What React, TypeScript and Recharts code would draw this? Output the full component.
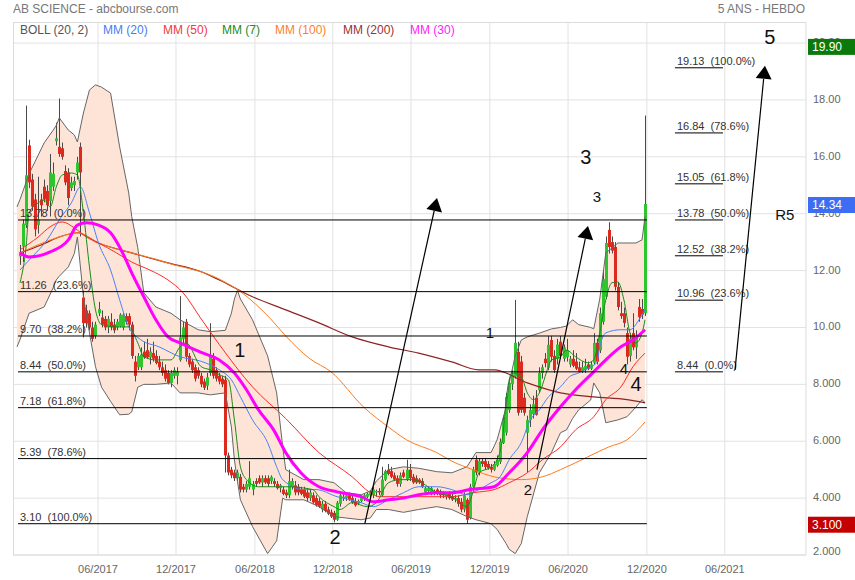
import React from 'react';
import {
  ComposedChart, XAxis, YAxis, CartesianGrid, Line, Area, Bar,
  ReferenceLine, ReferenceDot,
} from 'recharts';

const FONT = '"Liberation Sans", Arial, Helvetica, sans-serif';

// weekly candles [open, high, low, close], week index 0 = early Dec 2016
const candlesA: number[][] = [
  [12.5,12.9,12.2,12.65],[12.85,13.8,12.3,13.65],[13.6,17.8,13.5,15.35],[16.4,16.6,14.9,15.1],
  [15.2,15.4,14.1,14.25],[14.5,14.7,13.2,13.45],[13.6,15.3,13.3,13.8],[14.5,14.7,13.9,14.3],
  [14.95,15.2,14.4,14.5],[14.8,15.0,14.1,14.3],[14.45,16.1,13.9,15.45],[14.95,15.8,14.8,15.4],
  [16.55,17.2,16.4,16.65],[16.35,18.05,16.0,16.1],[16.3,16.5,15.9,16.0],[15.5,15.7,15.0,15.1],
  [15.45,15.6,14.3,14.55],[14.9,15.3,14.8,15.1],[15.0,15.3,14.8,15.15],[15.45,16.0,15.2,15.8],
  [16.35,16.5,13.2,15.45],
];
const candlesB: number[][] = [
  [11.05,11.3,9.65,10.15],[10.6,10.8,10.0,10.15],[10.5,10.6,9.9,10.0],[10.0,10.2,9.5,9.6],
  [9.7,10.2,9.6,10.1],[10.5,10.9,10.4,10.65],[10.35,10.6,10.0,10.1],[10.3,10.4,9.9,10.0],
  [10.0,10.4,9.8,10.3],[10.2,10.5,9.9,10.0],[10.1,10.3,9.8,9.9],[10.0,10.3,9.9,10.2],
  [10.05,10.5,10.0,10.45],[10.0,10.5,9.9,10.45],[10.4,10.5,10.1,10.2],[10.4,10.5,9.9,10.1],
  [10.1,10.2,8.9,9.0],[8.8,9.0,8.1,8.3],
];
const candlesC: number[][] = [
  [8.6,9.1,8.5,9.0],[8.6,9.3,8.5,9.05],[9.15,9.5,8.9,8.95],[9.2,9.6,8.9,8.95],
  [8.95,9.3,8.7,9.15],[9.1,9.5,8.8,8.9],[9.0,9.2,8.7,8.75],[8.8,9.0,8.5,8.6],
  [8.6,8.8,8.3,8.4],[8.5,8.7,8.1,8.2],[8.4,8.5,8.0,8.05],[8.05,8.5,7.9,8.4],
  [8.3,8.6,8.2,8.5],[8.3,8.6,8.0,8.45],[8.85,11.1,8.8,9.65],[9.6,10.2,9.4,10.0],
  [10.2,10.3,8.8,8.97],[9.0,9.1,8.6,8.7],[8.8,8.9,8.4,8.5],[8.6,8.7,8.1,8.2],
  [8.5,8.6,8.2,8.3],[8.3,8.4,7.9,8.0],[8.1,8.2,7.8,7.88],[7.95,8.4,7.8,8.25],
  [8.4,10.15,8.3,8.97],[8.9,9.1,8.2,8.3],[8.5,8.6,8.1,8.2],[8.3,8.4,8.0,8.1],
  [8.2,8.3,7.9,8.0],[8.16,8.3,4.9,5.5],[5.5,5.6,4.8,4.9],
];
const candlesD: number[][] = [
  [5.0,5.1,4.7,4.8],[4.9,5.0,4.6,4.7],[4.7,5.0,4.6,4.9],[4.75,4.85,4.2,4.3],
  [4.4,4.5,4.2,4.3],[4.3,4.6,4.2,4.5],[4.4,5.3,4.3,4.7],[4.3,4.6,4.1,4.5],
  [4.6,4.7,4.4,4.5],[4.7,4.8,4.5,4.55],[4.55,4.8,4.4,4.7],[4.7,4.8,4.5,4.55],
  [4.7,4.8,4.4,4.5],[4.6,4.8,4.5,4.75],[4.6,4.7,4.4,4.5],[4.5,4.6,4.3,4.35],
  [4.35,4.5,4.2,4.45],[4.3,4.4,4.1,4.15],[4.2,4.3,4.0,4.1],[4.1,5.0,4.0,4.6],
  [4.4,4.7,4.3,4.6],[4.45,4.6,4.1,4.2],[4.4,4.5,4.1,4.2],[4.3,4.4,4.1,4.15],
  [4.3,4.4,4.0,4.05],[4.2,4.35,3.9,4.0],[4.0,4.3,3.9,4.2],[4.1,4.2,3.8,3.85],
  [4.0,4.1,3.7,3.75],[3.9,4.0,3.65,3.7],[3.6,3.9,3.5,3.8],[3.8,3.9,3.5,3.55],
  [3.6,3.7,3.4,3.45],[3.5,3.6,3.3,3.35],[3.48,3.55,3.15,3.24],[3.24,3.9,3.2,3.84],
  [3.8,4.2,3.7,4.1],[4.0,4.2,3.9,4.05],[4.0,4.2,3.9,4.1],[4.1,4.2,3.9,3.95],
  [4.0,4.1,3.8,3.85],[3.9,4.0,3.7,3.75],[3.8,3.95,3.75,3.9],[3.9,4.1,3.85,4.05],
  [4.0,4.15,3.9,4.1],[4.05,4.2,4.0,4.15],[4.1,4.25,4.0,4.2],[4.1,4.4,4.0,4.3],
  [4.2,4.3,4.05,4.25],[4.25,4.35,4.1,4.2],
];
const candlesE: number[][] = [
  [4.1,5.1,4.05,4.65],[4.65,5.0,4.6,4.95],[5.0,5.2,4.8,4.85],[4.95,5.1,4.7,4.75],
  [4.8,4.9,4.6,4.65],[4.7,4.8,4.4,4.5],[4.5,4.9,4.4,4.8],[4.9,5.0,4.7,4.75],
  [4.65,5.35,4.6,5.0],[5.0,5.2,4.6,4.7],[4.75,4.85,4.5,4.55],[4.7,4.8,4.5,4.55],
  [4.65,4.7,4.5,4.55],[4.6,4.7,4.35,4.4],[4.2,4.4,4.1,4.35],[4.25,4.4,4.2,4.35],
  [4.15,4.4,4.1,4.35],[4.2,4.3,4.1,4.25],[4.3,4.35,4.1,4.2],[4.25,4.3,4.0,4.1],
  [4.2,4.25,4.0,4.1],[4.05,4.2,3.95,4.15],[4.15,4.25,3.95,4.0],[4.05,4.15,3.9,3.95],
  [3.95,4.1,3.85,4.0],[4.0,4.1,3.7,3.8],[3.87,4.0,3.5,3.6],[3.6,4.2,3.5,4.1],
  [3.94,4.0,3.1,3.24],[3.3,4.5,3.25,4.4],[4.4,5.1,4.3,5.0],[5.35,5.5,4.8,4.9],
  [4.9,5.4,4.8,5.3],[5.3,5.4,5.1,5.2],[5.3,5.4,5.0,5.1],[5.2,5.3,5.0,5.05],
  [5.1,5.2,4.9,5.0],[5.0,5.3,4.95,5.2],[5.15,5.5,5.1,5.35],[5.28,6.1,5.2,5.98],
  [5.94,6.9,5.9,6.75],
];
const candlesF: number[][] = [
  [6.3,7.7,6.2,7.56],[7.1,8.2,7.0,8.05],[8.0,8.5,7.8,8.35],[8.27,10.97,8.2,9.46],
  [9.14,9.5,6.9,7.0],[8.8,9.0,7.0,7.1],[7.53,7.7,6.9,7.0],[6.3,6.9,4.9,6.75],
  [6.75,7.3,6.5,7.1],[6.95,7.6,6.8,7.3],[7.53,7.8,6.9,6.93],[7.8,8.6,7.7,8.4],
  [8.4,8.7,8.2,8.6],[8.9,9.1,8.6,8.75],[8.58,9.7,8.5,9.39],[9.56,9.7,8.8,8.97],
  [9.0,9.2,8.4,8.5],[8.9,9.6,8.7,9.4],[9.5,9.7,8.9,9.0],[8.9,9.4,8.8,9.3],
  [8.95,9.6,8.8,9.2],[8.7,9.0,8.6,8.9],[8.9,9.2,8.6,8.65],[8.8,9.1,8.5,8.55],
  [8.6,8.8,8.4,8.45],[8.45,8.8,8.4,8.6],[8.5,8.9,8.4,8.65],[8.7,8.8,8.5,8.55],
  [8.55,8.8,8.5,8.7],[8.76,9.8,8.7,9.46],[9.46,9.6,8.7,8.8],[9.2,10.7,9.1,10.5],
  [10.2,12.0,10.1,11.7],[11.08,13.2,11.0,12.97],[13.43,13.7,12.6,12.83],[13.0,13.2,12.6,12.7],
  [12.83,13.0,11.3,11.43],[11.43,11.6,10.6,10.72],[10.5,10.9,10.3,10.4],[10.5,10.7,10.0,10.16],
  [9.8,10.0,8.7,8.97],[9.0,9.8,8.8,9.6],[9.8,10.5,9.2,9.3],[9.3,9.9,8.9,9.65],
  [10.72,11.0,10.2,10.37],[10.65,11.0,10.3,10.45],[10.5,17.45,10.4,14.34],
];

// Bollinger (20,2): [week, lower, upper]
const bollinger: number[][] = [
  [-1,9.32,14.24],[0,9.57,14.5],[3,10.5,15.4],[8,10.72,16.49],[11,11.4,16.94],[12,11.67,17.1],
  [13,11.8,17.37],[16,12.13,16.94],[18,12.6,16.77],[19,13.18,16.52],[21,11.08,17.54],[23,9.81,18.35],
  [25,8.62,18.53],[27,7.9,18.45],[30,7.4,18.24],[33,6.93,16.35],[36,6.95,14.73],[37,7.03,13.9],
  [39,7.9,12.8],[41,8.0,11.22],[45,8.0,10.72],[50,8.05,10.5],[53,7.7,10.27],[59,7.7,9.92],
  [63,7.63,9.85],[68,7.7,9.9],[70,6.5,10.5],[71,5.35,11.0],[72,4.6,11.3],[73,3.94,11.0],
  [77,3.0,10.27],[82,2.05,9.0],[85,2.5,7.7],[87,4.0,5.8],[88,3.94,5.0],[94,3.94,4.65],
  [99,3.7,4.65],[104,3.35,4.54],[108,3.3,4.19],[113,3.24,4.12],[116,3.3,4.25],[118,3.6,4.6],
  [122,3.6,5.0],[127,3.5,5.1],[132,3.6,5.05],[138,3.7,4.93],[143,3.6,4.89],[148,3.35,5.1],
  [151,3.24,5.6],[156,3.1,5.6],[158,2.9,6.05],[161,2.4,7.2],[162,2.2,8.05],[164,2.05,9.0],
  [166,2.4,9.56],[168,3.35,9.67],[172,4.89,9.8],[176,5.6,9.95],[179,6.3,10.0],[181,6.4,10.05],
  [183,6.8,10.27],[185,7.1,10.1],[189,7.45,10.0],[190,8.05,9.95],[192,7.7,11.0],[194,6.65,12.62],
  [198,6.75,12.97],[201,6.86,12.97],[204,7.2,12.97],[206,7.46,13.08],[207,7.35,13.9],
];

// moving averages: [week, value]
const mm20: number[][] = [
  [0,12.02],[4,12.48],[9,13.08],[13,13.78],[17,14.38],[20,14.94],[23,14.03],[26,12.97],[30,12.02],
  [33,10.97],[36,10.02],[40,9.57],[46,9.32],[53,8.97],[60,8.81],[66,8.51],[70,8.16],[73,7.56],
  [77,6.75],[82,5.95],[85,5.1],[87,4.65],[94,4.3],[98,4.3],[105,4.05],[113,3.84],[117,3.7],
  [122,3.94],[127,4.19],[132,4.4],[138,4.4],[143,4.3],[148,4.12],[151,4.25],[156,4.54],[159,4.75],
  [162,5.35],[166,5.95],[169,6.75],[172,7.1],[175,7.56],[179,7.91],[182,8.27],[185,8.4],[189,8.62],
  [191,8.76],[192,9.32],[194,9.81],[199,9.92],[202,9.92],[205,10.27],[207,10.62],
];
const mm50: number[][] = [
  [0,12.73],[6,13.18],[10,13.54],[14,13.71],[18,13.5],[22,13.18],[26,12.97],[32,12.62],[37,12.3],
  [43,12.02],[49,11.67],[54,11.22],[60,10.3],[66,9.4],[77,7.91],[88,6.8],[99,5.6],[110,4.75],
  [116,4.19],[119,4.05],[127,4.05],[143,4.05],[150,4.19],[157,4.3],[162,4.54],[168,4.89],[173,5.35],
  [179,5.8],[184,6.4],[190,6.86],[194,7.46],[199,7.91],[203,8.62],[207,9.1],
];
const mm7: number[][] = [
  [0,11.57],[2,12.83],[3,14.03],[6,14.38],[8,14.48],[10,14.24],[12,14.94],[14,15.36],[17,15.43],
  [19,15.36],[21,14.03],[23,12.13],[25,10.62],[27,10.1],[32,10.02],[36,10.02],[39,9.46],[41,8.97],
  [45,8.86],[50,8.86],[53,9.32],[55,9.46],[60,8.62],[63,8.51],[66,8.34],[69,8.16],[71,6.75],
  [73,5.1],[75,4.65],[79,4.4],[88,4.4],[97,4.3],[99,4.05],[104,3.7],[106,3.6],[110,3.84],
  [115,3.7],[118,3.84],[122,4.54],[126,4.65],[130,4.65],[133,4.54],[138,4.19],[143,4.05],[148,3.7],
  [150,4.2],[152,4.89],[156,5.1],[158,5.35],[160,6.3],[161,7.46],[163,8.4],[166,8.27],[168,7.7],
  [170,7.46],[172,7.7],[175,8.62],[176,8.86],[179,8.97],[181,9.2],[184,8.97],[188,8.76],[190,8.86],
  [192,9.81],[194,10.97],[196,11.57],[198,11.6],[200,10.97],[202,9.81],[204,9.46],[206,9.81],[207,10.27],
];
const mm100: number[][] = [
  [0,12.62],[13,13.18],[19,13.33],[26,12.97],[37,12.62],[45,12.4],[51,12.2],[55,12.1],[64,11.8],
  [73,11.26],[83,10.3],[88,9.7],[96,8.9],[103,8.44],[114,7.18],[122,6.5],[128,6.05],[138,5.6],
  [143,5.3],[150,5.0],[157,4.75],[166,4.65],[173,4.75],[179,5.0],[188,5.45],[195,5.8],[201,6.05],
  [207,6.68],
];
const mm200: number[][] = [
  [0,12.62],[7,12.9],[13,13.18],[19,13.33],[26,12.97],[37,12.62],[49,12.27],[60,11.96],[66,11.67],
  [77,11.08],[88,10.62],[99,10.16],[110,9.67],[122,9.32],[132,9.1],[143,8.79],[152,8.51],[157,8.51],
  [168,8.05],[179,7.7],[190,7.56],[201,7.46],[207,7.35],
];
const mm30: number[][] = [
  [0,12.62],[3,12.48],[10,12.66],[16,13.08],[19,13.6],[22,13.68],[26,13.6],[30,13.33],[34,12.62],
  [37,11.92],[41,11.08],[45,10.27],[49,9.67],[53,9.46],[60,9.12],[66,8.86],[71,8.4],[75,7.81],
  [79,7.1],[84,6.4],[88,5.6],[93,4.89],[99,4.4],[105,4.22],[113,4.05],[117,3.87],[122,3.94],
  [127,4.0],[132,4.12],[138,4.19],[143,4.19],[149,4.3],[157,4.4],[162,4.89],[168,5.6],[173,6.4],
  [179,7.21],[184,7.81],[190,8.44],[194,8.86],[199,9.32],[203,9.56],[207,9.92],
];

// Fibonacci retracement (left) and extension (right)
const fibLeftValues = [13.78, 11.26, 9.70, 8.44, 7.18, 5.39, 3.10];
const fibLeftLabels = ['13.78  (0.0%)', '11.26  (23.6%)', '9.70  (38.2%)', '8.44  (50.0%)', '7.18  (61.8%)', '5.39  (78.6%)', '3.10  (100.0%)'];
const fibRightValues = [19.13, 16.84, 15.05, 13.78, 12.52, 10.96, 8.44];
const fibRightLabels = ['19.13  (100.0%)', '16.84  (78.6%)', '15.05  (61.8%)', '13.78  (50.0%)', '12.52  (38.2%)', '10.96  (23.6%)', '8.44  (0.0%)'];

// arrows: [fromWeek, fromValue, toWeek, toValue]
const arrows: number[][] = [
  [114.2, 3.1, 138.1, 14.55],
  [171.2, 5.0, 188.1, 13.57],
  [236.8, 8.51, 246.7, 19.2],
];
// wave labels
const waveText = ['1', '2', '1', '2', '3', '3', '4', '4', '5', 'R5'];
const waveWeek = [72.8, 104.3, 155.6, 168.2, 187.4, 191.1, 200.0, 204.0, 248.3, 253.3];
const waveValue = [9.21, 2.64, 9.81, 4.29, 16.0, 14.62, 8.55, 8.02, 20.22, 13.96];
const waveSize = [20, 20, 15, 15, 20, 15, 15, 20, 20, 15];

// price badges on the axis
const badgeValues = [19.90, 14.34, 3.10];
const badgeLabels = ['19.90', '14.34', '3.100'];
const badgeColors = ['#0b7a0b', '#3d6df2', '#c40000'];

const xTickPos = [25.83, 51.66, 77.8, 103.6, 129.5, 155.6, 181.5, 207.6, 233.4];
const xTickLabels = ['06/2017', '12/2017', '06/2018', '12/2018', '06/2019', '12/2019', '06/2020', '12/2020', '06/2021'];
const yTicks = [2, 4, 6, 8, 10, 12, 14, 16, 18, 20];

const X_MIN = -2.32;
const X_MAX = 260.3;
const Y_MIN = 2;
const Y_MAX = 20.74;

const legendItems = [
  { t: 'BOLL (20, 2)', c: '#555555', x: 20 },
  { t: 'MM (20)', c: '#4a7cf6', x: 103 },
  { t: 'MM (50)', c: '#f03b3b', x: 163 },
  { t: 'MM (7)', c: '#228b22', x: 222 },
  { t: 'MM (100)', c: '#ff7f27', x: 275 },
  { t: 'MM (200)', c: '#993333', x: 343 },
  { t: 'MM (30)', c: '#ff22ff', x: 410 },
];

// ---- build the table ----
const allCandles = [...candlesA, ...candlesB, ...candlesC, ...candlesD, ...candlesE, ...candlesF];
const rows: any[] = [];
for (let i = -2; i <= 260; i++) rows.push({ i });
const rowAt = (i: number) => rows[Math.round(i) + 2];
allCandles.forEach((c, k) => {
  Object.assign(rowAt(k), { o: c[0], h: c[1], l: c[2], c: c[3], hl: [c[2], c[1]] });
});
bollinger.forEach(([i, lo, up]) => Object.assign(rowAt(i), { bbLo: lo, bbUp: up, band: [lo, up] }));
const addSeries = (key: string, pts: number[][]) => pts.forEach(([i, v]) => { rowAt(i)[key] = v; });
addSeries('mm20', mm20);
addSeries('mm50', mm50);
addSeries('mm7', mm7);
addSeries('mm100', mm100);
addSeries('mm200', mm200);
addSeries('mm30', mm30);

// axis ticks: regular ticks first, badge values last so badges paint on top
const yAxisTicks = [...yTicks, ...badgeValues];

const Candle = (p: any) => {
  const d = p.payload;
  if (!d || d.o == null) return null;
  const top = Math.min(p.y, p.y + p.height);
  const bot = Math.max(p.y, p.y + p.height);
  const span = d.h - d.l || 1;
  const yOf = (v: number) => top + ((d.h - v) / span) * (bot - top);
  const cx = Math.round(p.x + p.width / 2);
  const up = d.c >= d.o;
  const y1 = yOf(Math.max(d.o, d.c));
  const y2 = yOf(Math.min(d.o, d.c));
  return (
    <g>
      <line x1={cx + 0.5} x2={cx + 0.5} y1={top} y2={bot} stroke="#4a4a4a" strokeWidth={1} />
      <rect x={cx - 1} y={y1} width={3} height={Math.max(1, y2 - y1)} fill={up ? '#2ec52e' : '#de2a1e'} />
    </g>
  );
};

const fibShape = (label: string) => (p: any) => (
  <g>
    <line x1={p.x1} y1={p.y1} x2={p.x2} y2={p.y2} stroke="#000" strokeWidth={1} />
    <text x={p.x1 + 2} y={p.y1 - 3} fontSize={11} fill="#333" fontFamily={FONT} style={{ whiteSpace: 'pre' }}>{label}</text>
  </g>
);

const arrowShape = (p: any) => {
  const { x1, y1, x2, y2 } = p;
  const a = Math.atan2(y2 - y1, x2 - x1);
  const L = 13, W = 8;
  const bx = x2 - L * Math.cos(a), by = y2 - L * Math.sin(a);
  const lx = bx - W * Math.sin(a), ly = by + W * Math.cos(a);
  const rx = bx + W * Math.sin(a), ry = by - W * Math.cos(a);
  return (
    <g>
      <line x1={x1} y1={y1} x2={bx} y2={by} stroke="#000" strokeWidth={1.2} />
      <polygon points={`${x2},${y2} ${lx},${ly} ${rx},${ry}`} fill="#000" />
    </g>
  );
};

const fmtY = (v: number) => (v < 10 ? v.toFixed(3) : v.toFixed(2));
const fmtX = (v: number) => {
  const k = xTickPos.findIndex((t) => Math.abs(t - v) < 0.01);
  return k >= 0 ? xTickLabels[k] : '';
};

const YTick = (p: any) => {
  const v = p.payload.value;
  const k = badgeValues.indexOf(v);
  if (k >= 0) {
    return (
      <g>
        <rect x={p.x - 5} y={p.y - 7} width={47} height={16} fill={badgeColors[k]} />
        <text x={p.x - 1} y={p.y + 1} dominantBaseline="central" fontSize={12} fill="#fff" fontFamily={FONT}>{badgeLabels[k]}</text>
      </g>
    );
  }
  const lift = v === Y_MIN ? 4 : 1;
  return (
    <text x={p.x} y={p.y - lift} dominantBaseline="central" fontSize={11} fill="#666" fontFamily={FONT}>{fmtY(v)}</text>
  );
};

export default function App() {
  return (
    <div style={{ position: 'absolute', left: 0, top: 0, width: 855, height: 580, background: '#fff', fontFamily: FONT }}>
      <ComposedChart width={855} height={580} data={rows} margin={{ top: 22, right: 0, bottom: 0, left: 13 }}>
        <CartesianGrid stroke="#e2e2e2" strokeWidth={1} horizontalValues={yTicks} verticalValues={xTickPos} />
        <XAxis
          dataKey="i" type="number" domain={[X_MIN, X_MAX]} allowDataOverflow
          ticks={xTickPos} tickFormatter={fmtX} interval={0}
          height={25} tickLine={false} axisLine={{ stroke: '#dcdcdc' }}
          tick={{ fontSize: 11, fill: '#666', fontFamily: FONT }} tickMargin={4}
        />
        <YAxis
          orientation="right" type="number" domain={[Y_MIN, Y_MAX]} allowDataOverflow
          ticks={yAxisTicks} interval={0} width={49}
          tickLine={false} axisLine={{ stroke: '#dcdcdc' }} tickSize={0} tickMargin={7}
          tick={YTick}
        />
        <Area dataKey="band" type="linear" connectNulls fill="#fde4d7" fillOpacity={1} stroke="none" isAnimationActive={false} />
        <Line dataKey="bbUp" type="linear" connectNulls stroke="#666" strokeWidth={1} dot={false} isAnimationActive={false} />
        <Line dataKey="bbLo" type="linear" connectNulls stroke="#666" strokeWidth={1} dot={false} isAnimationActive={false} />
        <Bar dataKey="hl" barSize={3} shape={Candle} isAnimationActive={false} />
        <Line dataKey="mm200" type="monotone" connectNulls stroke="#8e2424" strokeWidth={1.2} dot={false} isAnimationActive={false} />
        <Line dataKey="mm100" type="monotone" connectNulls stroke="#ff7b1c" strokeWidth={1} dot={false} isAnimationActive={false} />
        <Line dataKey="mm50" type="monotone" connectNulls stroke="#ff2a2a" strokeWidth={1} dot={false} isAnimationActive={false} />
        <Line dataKey="mm20" type="monotone" connectNulls stroke="#4f7ff7" strokeWidth={1} dot={false} isAnimationActive={false} />
        <Line dataKey="mm7" type="monotone" connectNulls stroke="#1a8a1a" strokeWidth={1} dot={false} isAnimationActive={false} />
        <Line dataKey="mm30" type="monotone" connectNulls stroke="#ff00ff" strokeWidth={3} dot={false} isAnimationActive={false} />
        {fibLeftValues.map((v, k) => (
          <ReferenceLine key={'fl' + k} segment={[{ x: -0.66, y: v }, { x: 207.6, y: v }]} ifOverflow="visible" shape={fibShape(fibLeftLabels[k])} />
        ))}
        {fibRightValues.map((v, k) => (
          <ReferenceLine key={'fr' + k} segment={[{ x: 216.9, y: v }, { x: 232.8, y: v }]} ifOverflow="visible" shape={fibShape(fibRightLabels[k])} />
        ))}
        {arrows.map((a, k) => (
          <ReferenceLine key={'ar' + k} segment={[{ x: a[0], y: a[1] }, { x: a[2], y: a[3] }]} ifOverflow="visible" shape={arrowShape} />
        ))}
        {waveText.map((t, k) => (
          <ReferenceDot
            key={'w' + k} x={waveWeek[k]} y={waveValue[k]} r={0} ifOverflow="visible"
            shape={(p: any) => (
              <text x={p.cx} y={p.cy} textAnchor="middle" dominantBaseline="central" fontSize={waveSize[k]} fill="#111" fontFamily={FONT}>{t}</text>
            )}
          />
        ))}
      </ComposedChart>
      <div style={{ position: 'absolute', left: 13, top: 22, width: 793, height: 533, borderTop: '1px solid #dcdcdc', borderLeft: '1px solid #dcdcdc', boxSizing: 'border-box', pointerEvents: 'none' }} />
      <div style={{ position: 'absolute', left: 13, top: 2, fontSize: 12, color: '#777', whiteSpace: 'pre' }}>AB SCIENCE - abcbourse.com</div>
      <div style={{ position: 'absolute', right: 50, top: 2, fontSize: 12, color: '#777', whiteSpace: 'pre' }}>5 ANS - HEBDO</div>
      {legendItems.map((it) => (
        <div key={it.t} style={{ position: 'absolute', left: it.x, top: 23, fontSize: 12, color: it.c, whiteSpace: 'pre' }}>{it.t}</div>
      ))}
    </div>
  );
}
